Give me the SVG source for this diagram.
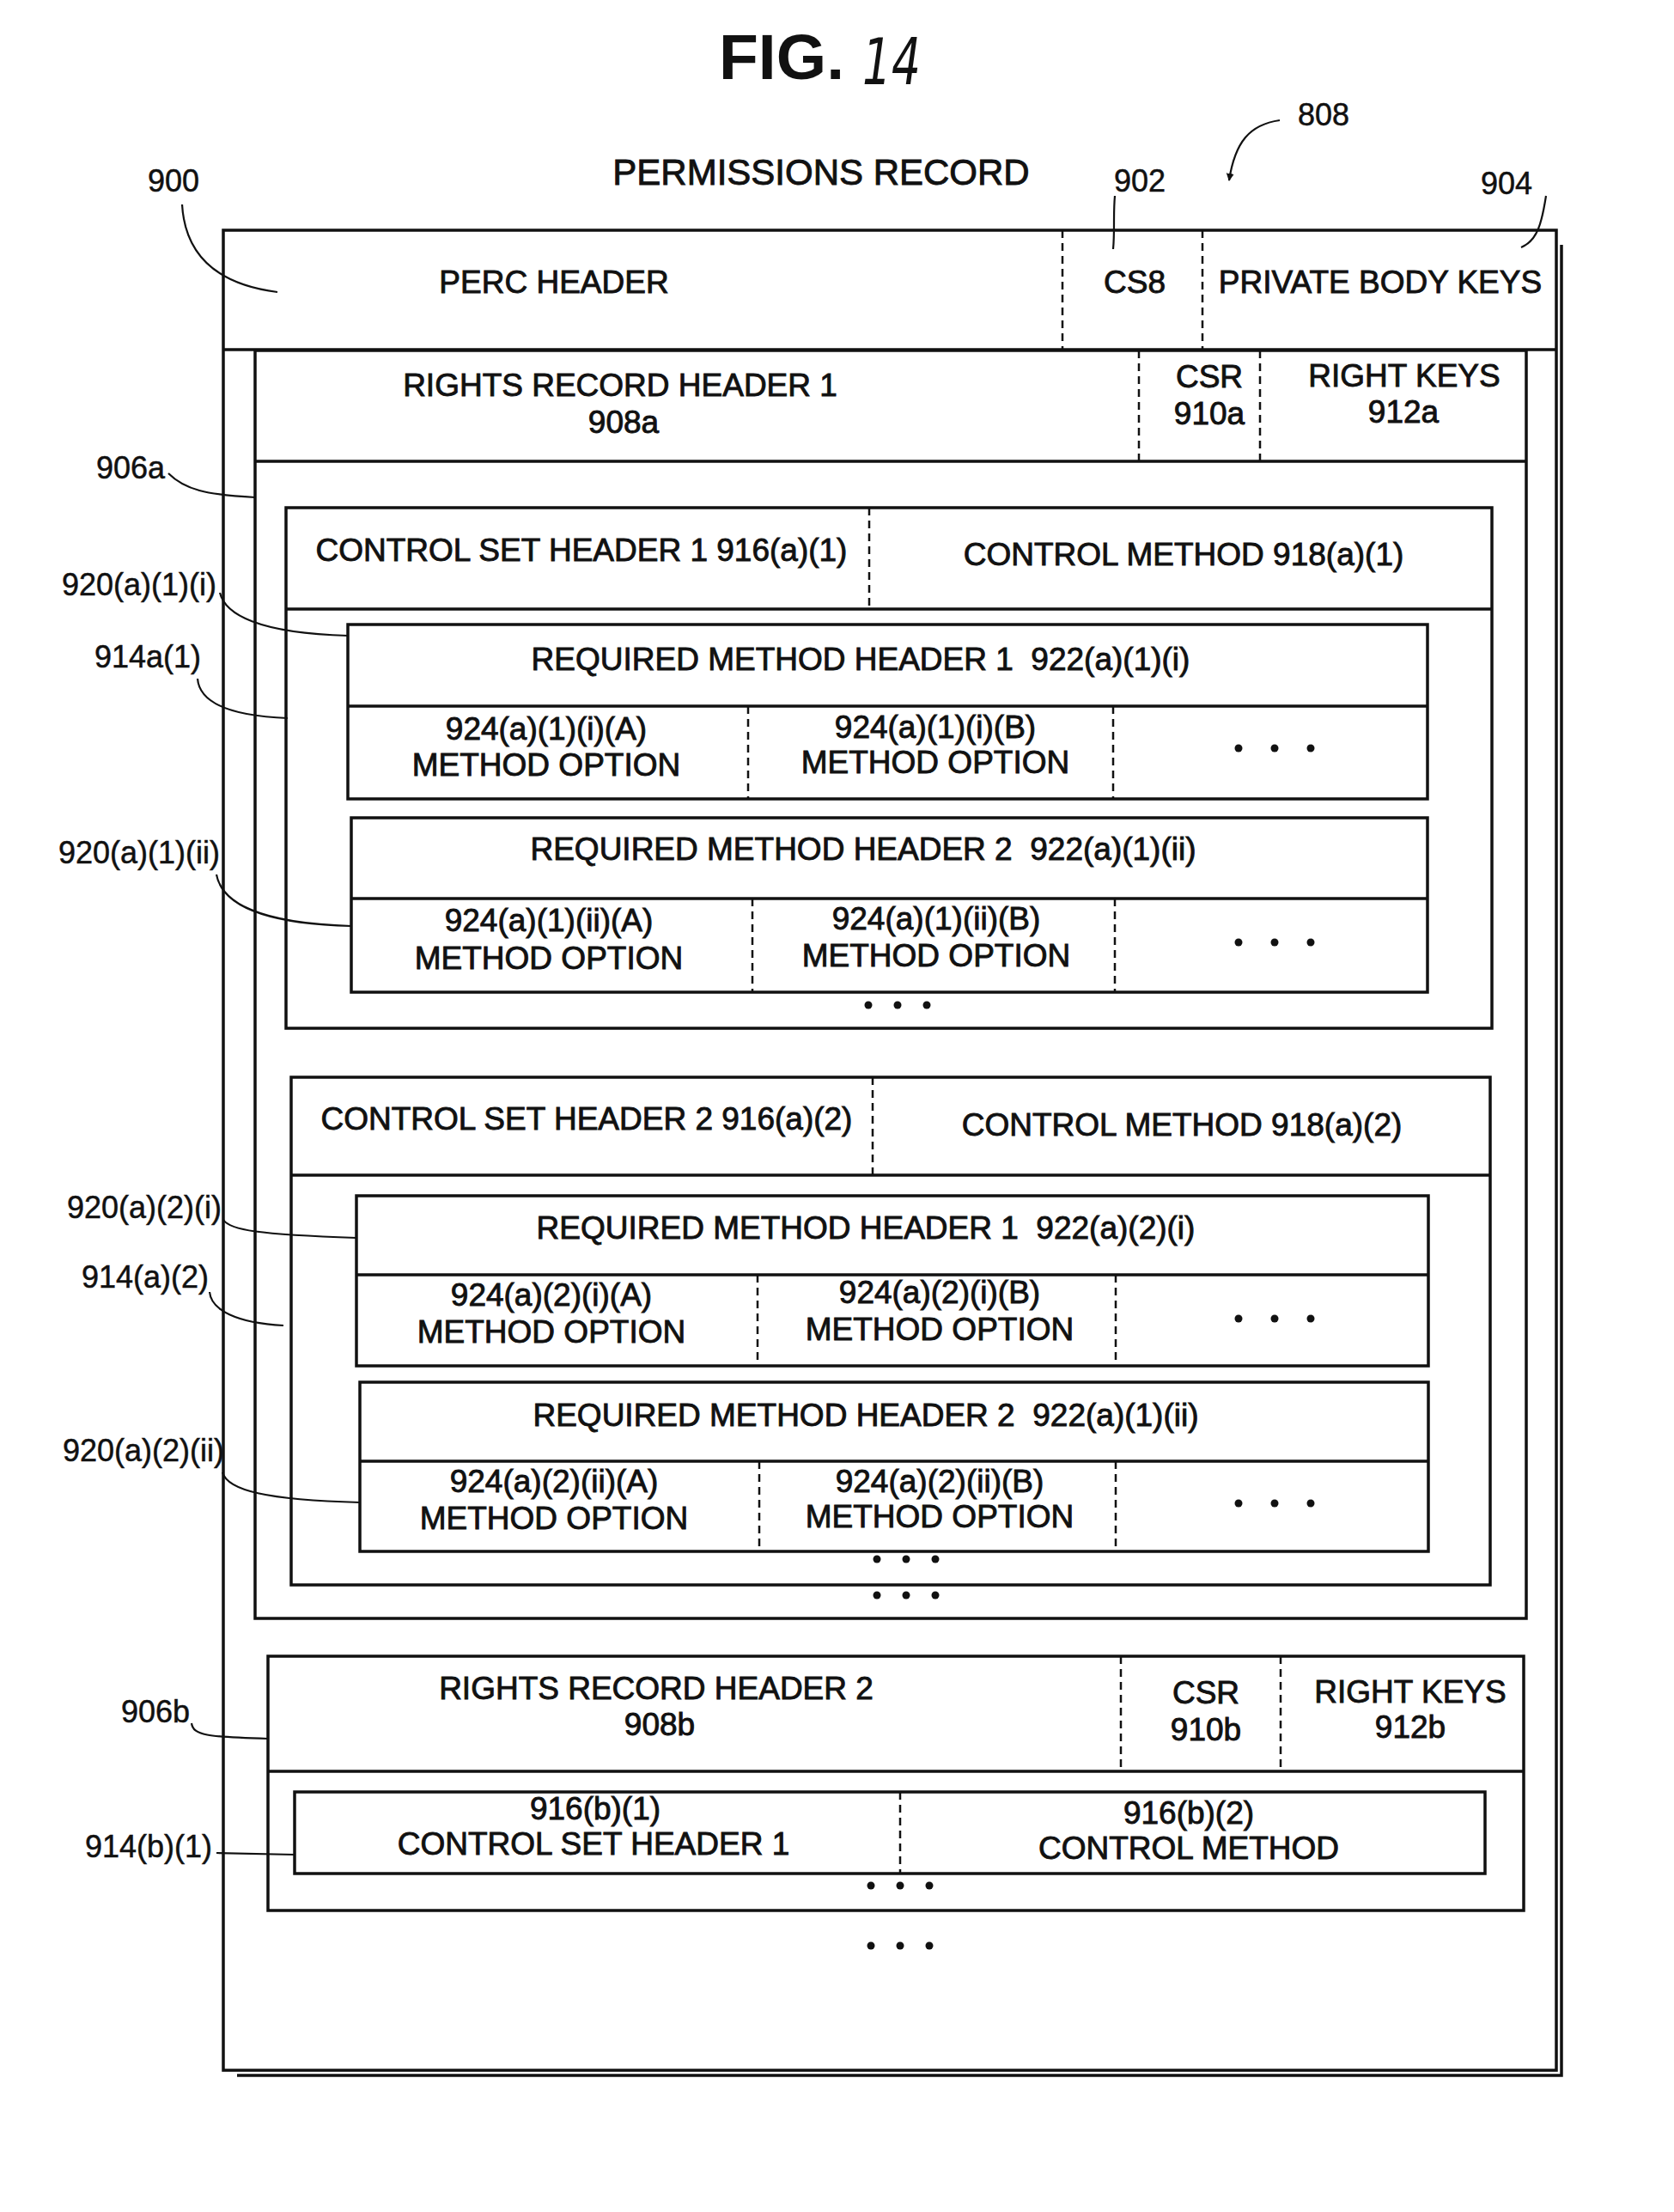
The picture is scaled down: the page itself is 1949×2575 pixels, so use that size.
<svg xmlns="http://www.w3.org/2000/svg" width="1949" height="2575" viewBox="0 0 1949 2575">
<style>
  .bx { fill: none; stroke: #111; stroke-width: 3.5; }
  .ln { fill: none; stroke: #111; stroke-width: 3.5; }
  .dv { fill: none; stroke: #111; stroke-width: 2.5; stroke-dasharray: 9 6; }
  .ld { fill: none; stroke: #111; stroke-width: 2.2; }
  .t { font-family: "Liberation Sans", Arial, sans-serif; font-size: 37px; text-anchor: middle; fill: #111; stroke: #111; stroke-width: 0.9; white-space: pre; }
  .lb { font-family: "Liberation Sans", Arial, sans-serif; font-size: 36px; text-anchor: end; fill: #111; stroke: #111; stroke-width: 0.5; }
  .tl { font-family: "Liberation Sans", Arial, sans-serif; font-size: 36px; text-anchor: middle; fill: #111; stroke: #111; stroke-width: 0.5; }
  .dt { fill: #111; }
</style>
<defs>
  <g id="celldots"><circle class="dt" cx="-42" cy="0" r="4.5"/><circle class="dt" cx="0" cy="0" r="4.5"/><circle class="dt" cx="42" cy="0" r="4.5"/></g>
  <g id="moredots"><circle class="dt" cx="-34" cy="0" r="4.5"/><circle class="dt" cx="0" cy="0" r="4.5"/><circle class="dt" cx="34" cy="0" r="4.5"/></g>
  <marker id="arr" viewBox="0 0 10 10" refX="9" refY="5" markerWidth="9" markerHeight="9" orient="auto-start-reverse" markerUnits="userSpaceOnUse">
    <path d="M0,0 L10,5 L0,10 z" fill="#111"/>
  </marker>
</defs>
<rect width="1949" height="2575" fill="#fff"/>

<g id="title">
  <text x="837" y="92" font-family="Liberation Sans, Arial, sans-serif" font-size="75" font-weight="bold" fill="#111" textLength="146" lengthAdjust="spacingAndGlyphs">FIG.</text>
  <text x="1004" y="98" font-family="DejaVu Sans, sans-serif" font-size="74" font-style="italic" font-weight="200" fill="#111" textLength="68" lengthAdjust="spacingAndGlyphs">14</text>
  <text x="956" y="215" font-family="Liberation Sans, Arial, sans-serif" font-size="42" text-anchor="middle" fill="#111" stroke="#111" stroke-width="0.9">PERMISSIONS RECORD</text>
  <text class="tl" x="1541" y="146">808</text>
  <text class="tl" x="202" y="223">900</text>
  <text class="tl" x="1327" y="223">902</text>
  <text class="tl" x="1754" y="226">904</text>
</g>

<g id="permissions-record-808">
  <rect class="bx" x="260" y="268" width="1552" height="2142" stroke-width="4"/>
  <polyline class="ln" points="1818,285 1818,2416 276,2416" stroke-width="5"/>
</g>

<g id="perc-header-900">
  <line class="ln" x1="260" y1="407" x2="1812" y2="407"/>
  <line class="dv" x1="1237" y1="268" x2="1237" y2="407"/>
  <line class="dv" x1="1400" y1="268" x2="1400" y2="407"/>
  <text class="t" x="645" y="341">PERC HEADER</text>
  <text class="t" x="1321" y="341">CS8</text>
  <text class="t" x="1607" y="341">PRIVATE BODY KEYS</text>
</g>

<g id="rights-record-906a">
  <rect class="bx" x="297" y="408" width="1480" height="1476"/>
  <line class="ln" x1="297" y1="537" x2="1777" y2="537"/>
  <line class="dv" x1="1326" y1="408" x2="1326" y2="537"/>
  <line class="dv" x1="1467" y1="408" x2="1467" y2="537"/>
  <text class="t" x="722" y="461">RIGHTS RECORD HEADER 1</text>
  <text class="t" x="726" y="504">908a</text>
  <text class="t" x="1408" y="451">CSR</text>
  <text class="t" x="1408" y="494">910a</text>
  <text class="t" x="1635" y="450">RIGHT KEYS</text>
  <text class="t" x="1634" y="492">912a</text>
  <use href="#moredots" x="1055" y="1857"/>
</g>

<g id="control-set-914a1">
  <rect class="bx" x="333" y="591" width="1404" height="606"/>
  <line class="ln" x1="333" y1="709" x2="1737" y2="709"/>
  <line class="dv" x1="1012" y1="591" x2="1012" y2="709"/>
  <text class="t" x="677" y="653">CONTROL SET HEADER 1 916(a)(1)</text>
  <text class="t" x="1378" y="658">CONTROL METHOD 918(a)(1)</text>
  <use href="#moredots" x="1045" y="1170"/>
</g>

<g id="required-method-920a1i">
  <rect class="bx" x="405" y="727" width="1257" height="203"/>
  <line class="ln" x1="405" y1="822" x2="1662" y2="822"/>
  <line class="dv" x1="871" y1="822" x2="871" y2="930"/>
  <line class="dv" x1="1296" y1="822" x2="1296" y2="930"/>
  <text class="t" x="1002" y="780">REQUIRED METHOD HEADER 1  922(a)(1)(i)</text>
  <text class="t" x="636" y="861">924(a)(1)(i)(A)</text>
  <text class="t" x="636" y="903">METHOD OPTION</text>
  <text class="t" x="1089" y="859">924(a)(1)(i)(B)</text>
  <text class="t" x="1089" y="900">METHOD OPTION</text>
  <use href="#celldots" x="1484" y="871"/>
</g>

<g id="required-method-920a1ii">
  <rect class="bx" x="409" y="952" width="1253" height="203"/>
  <line class="ln" x1="409" y1="1046" x2="1662" y2="1046"/>
  <line class="dv" x1="876" y1="1046" x2="876" y2="1155"/>
  <line class="dv" x1="1298" y1="1046" x2="1298" y2="1155"/>
  <text class="t" x="1005" y="1001">REQUIRED METHOD HEADER 2  922(a)(1)(ii)</text>
  <text class="t" x="639" y="1084">924(a)(1)(ii)(A)</text>
  <text class="t" x="639" y="1128">METHOD OPTION</text>
  <text class="t" x="1090" y="1082">924(a)(1)(ii)(B)</text>
  <text class="t" x="1090" y="1125">METHOD OPTION</text>
  <use href="#celldots" x="1484" y="1097"/>
</g>

<g id="control-set-914a2">
  <rect class="bx" x="339" y="1254" width="1396" height="591"/>
  <line class="ln" x1="339" y1="1368" x2="1735" y2="1368"/>
  <line class="dv" x1="1016" y1="1254" x2="1016" y2="1368"/>
  <text class="t" x="683" y="1315">CONTROL SET HEADER 2 916(a)(2)</text>
  <text class="t" x="1376" y="1322">CONTROL METHOD 918(a)(2)</text>
  <use href="#moredots" x="1055" y="1815"/>
</g>

<g id="required-method-920a2i">
  <rect class="bx" x="415" y="1392" width="1248" height="198"/>
  <line class="ln" x1="415" y1="1484" x2="1663" y2="1484"/>
  <line class="dv" x1="882" y1="1484" x2="882" y2="1590"/>
  <line class="dv" x1="1299" y1="1484" x2="1299" y2="1590"/>
  <text class="t" x="1008" y="1442">REQUIRED METHOD HEADER 1  922(a)(2)(i)</text>
  <text class="t" x="642" y="1520">924(a)(2)(i)(A)</text>
  <text class="t" x="642" y="1563">METHOD OPTION</text>
  <text class="t" x="1094" y="1517">924(a)(2)(i)(B)</text>
  <text class="t" x="1094" y="1560">METHOD OPTION</text>
  <use href="#celldots" x="1484" y="1535"/>
</g>

<g id="required-method-920a2ii">
  <rect class="bx" x="419" y="1609" width="1244" height="197"/>
  <line class="ln" x1="419" y1="1701" x2="1663" y2="1701"/>
  <line class="dv" x1="884" y1="1701" x2="884" y2="1806"/>
  <line class="dv" x1="1299" y1="1701" x2="1299" y2="1806"/>
  <text class="t" x="1008" y="1660">REQUIRED METHOD HEADER 2  922(a)(1)(ii)</text>
  <text class="t" x="645" y="1737">924(a)(2)(ii)(A)</text>
  <text class="t" x="645" y="1780">METHOD OPTION</text>
  <text class="t" x="1094" y="1737">924(a)(2)(ii)(B)</text>
  <text class="t" x="1094" y="1778">METHOD OPTION</text>
  <use href="#celldots" x="1484" y="1750"/>
</g>

<g id="rights-record-906b">
  <rect class="bx" x="312" y="1928" width="1462" height="296"/>
  <line class="ln" x1="312" y1="2062" x2="1774" y2="2062"/>
  <line class="dv" x1="1305" y1="1928" x2="1305" y2="2062"/>
  <line class="dv" x1="1491" y1="1928" x2="1491" y2="2062"/>
  <text class="t" x="764" y="1978">RIGHTS RECORD HEADER 2</text>
  <text class="t" x="768" y="2020">908b</text>
  <text class="t" x="1404" y="1983">CSR</text>
  <text class="t" x="1404" y="2026">910b</text>
  <text class="t" x="1642" y="1982">RIGHT KEYS</text>
  <text class="t" x="1642" y="2023">912b</text>
  <use href="#moredots" x="1048" y="2265"/>
</g>

<g id="control-set-914b1">
  <rect class="bx" x="343" y="2086" width="1386" height="95"/>
  <line class="dv" x1="1048" y1="2086" x2="1048" y2="2181"/>
  <text class="t" x="693" y="2118">916(b)(1)</text>
  <text class="t" x="691" y="2159">CONTROL SET HEADER 1</text>
  <text class="t" x="1384" y="2123">916(b)(2)</text>
  <text class="t" x="1384" y="2164">CONTROL METHOD</text>
  <use href="#moredots" x="1048" y="2195"/>
</g>

<g id="reference-labels">
  <text class="lb" x="192" y="557">906a</text>
  <text class="lb" x="252" y="693">920(a)(1)(i)</text>
  <text class="lb" x="234" y="777">914a(1)</text>
  <text class="lb" x="256" y="1005">920(a)(1)(ii)</text>
  <text class="lb" x="258" y="1418">920(a)(2)(i)</text>
  <text class="lb" x="243" y="1499">914(a)(2)</text>
  <text class="lb" x="261" y="1701">920(a)(2)(ii)</text>
  <text class="lb" x="221" y="2005">906b</text>
  <text class="lb" x="247" y="2162">914(b)(1)</text>
</g>

<g id="connectors">
  <path class="ld" d="M1490,140 C1455,145 1438,165 1431,210" marker-end="url(#arr)"/>
  <path class="ld" d="M212,238 C215,290 245,330 323,340"/>
  <path class="ld" d="M1298,228 C1296,250 1298,270 1296,290"/>
  <path class="ld" d="M1800,228 C1795,260 1790,280 1771,288"/>
  <path class="ld" d="M196,551 C215,570 240,576 297,579"/>
  <path class="ld" d="M256,690 C262,715 300,737 405,740"/>
  <path class="ld" d="M230,790 C232,815 260,833 335,836"/>
  <path class="ld" d="M252,1018 C258,1050 300,1075 409,1078"/>
  <path class="ld" d="M260,1420 C268,1432 300,1437 415,1441"/>
  <path class="ld" d="M244,1504 C246,1525 275,1540 330,1543"/>
  <path class="ld" d="M259,1714 C265,1735 310,1746 419,1749"/>
  <path class="ld" d="M223,2006 C225,2020 240,2022 312,2024"/>
  <path class="ld" d="M252,2157 L343,2159"/>
</g>
</svg>
